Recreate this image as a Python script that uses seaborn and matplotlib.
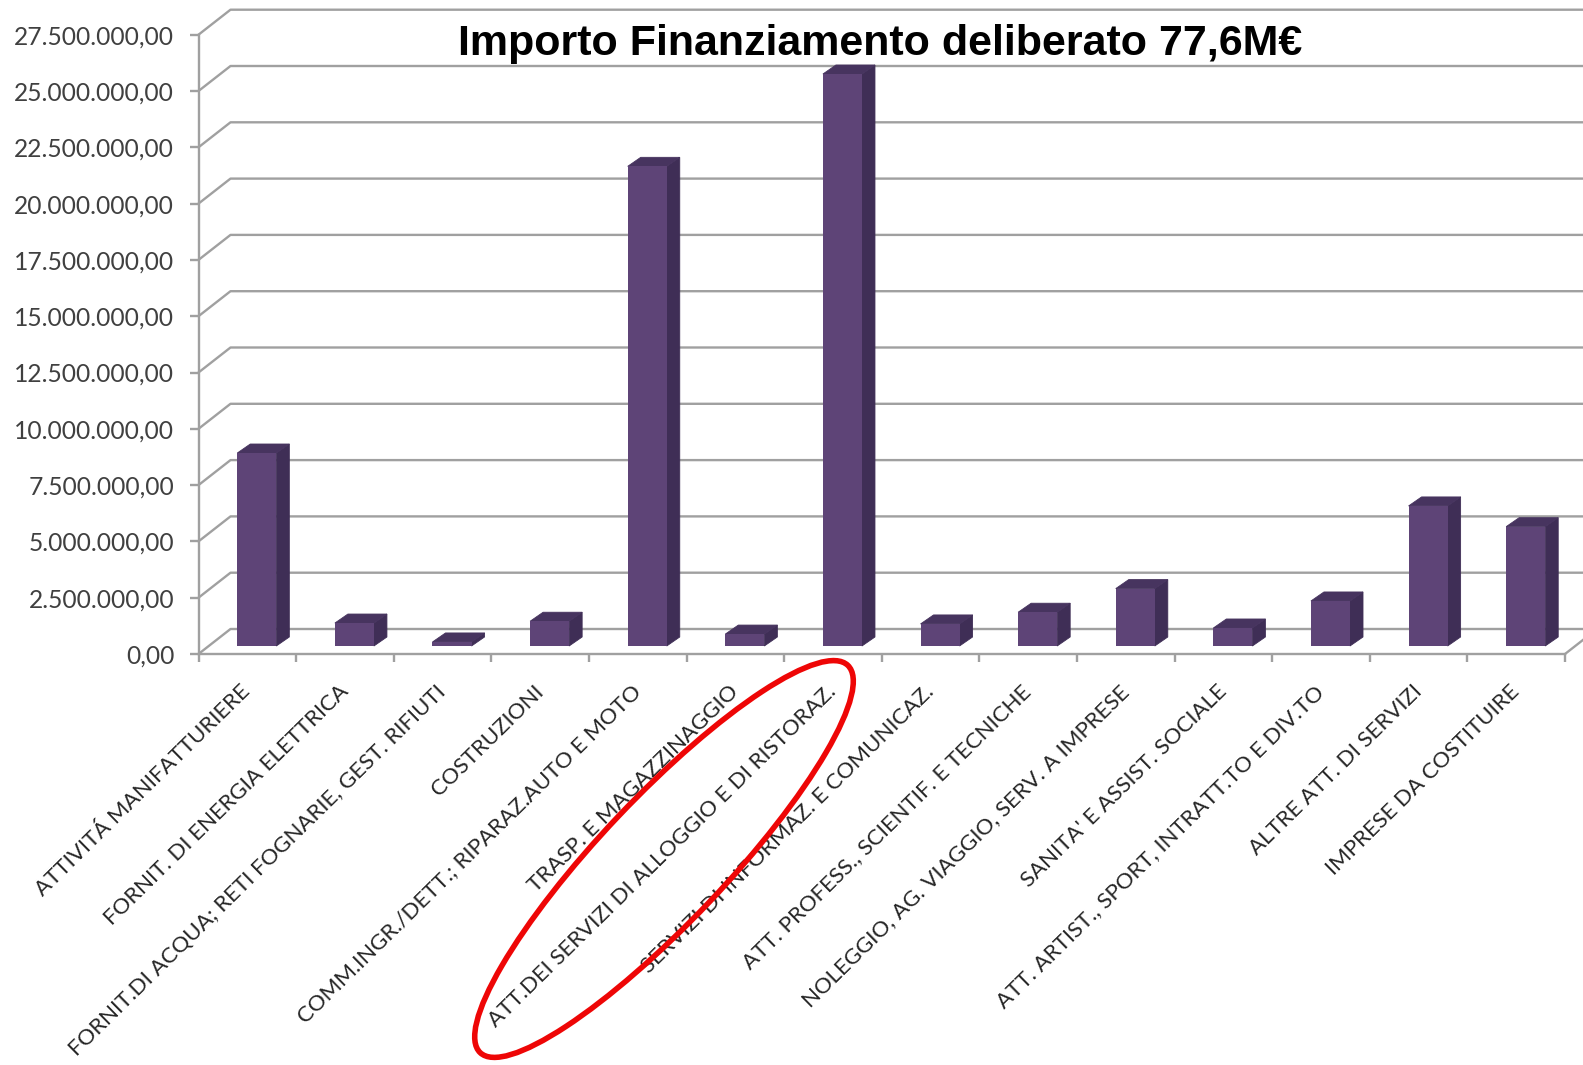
#!/usr/bin/env python3.12

import matplotlib
matplotlib.use("Agg")
import matplotlib.pyplot as plt
import matplotlib.transforms as mtrans
from matplotlib.patches import Ellipse, Polygon
import seaborn as sns

sns.set_theme(style="white")
plt.rcParams["font.family"] = ["Lato", "DejaVu Sans"]

categories = [
    "ATTIVITÁ MANIFATTURIERE",
    "FORNIT. DI ENERGIA ELETTRICA",
    "FORNIT.DI ACQUA; RETI FOGNARIE, GEST. RIFIUTI",
    "COSTRUZIONI",
    "COMM.INGR./DETT.; RIPARAZ.AUTO E MOTO",
    "TRASP. E MAGAZZINAGGIO",
    "ATT.DEI SERVIZI DI ALLOGGIO E DI RISTORAZ.",
    "SERVIZI DI INFORMAZ. E COMUNICAZ.",
    "ATT. PROFESS., SCIENTIF. E TECNICHE",
    "NOLEGGIO, AG. VIAGGIO, SERV. A IMPRESE",
    "SANITA' E ASSIST. SOCIALE",
    "ATT. ARTIST., SPORT, INTRATT.TO E DIV.TO",
    "ALTRE ATT. DI SERVIZI",
    "IMPRESE DA COSTITUIRE",
]
values = [
    8570000, 1020000, 180000, 1100000, 21300000, 530000, 25400000,
    980000, 1500000, 2550000, 800000, 2000000, 6220000, 5300000,
]
y_ticks = [
    0, 2500000, 5000000, 7500000, 10000000, 12500000, 15000000,
    17500000, 20000000, 22500000, 25000000, 27500000,
]
y_labels = [
    "0,00", "2.500.000,00", "5.000.000,00", "7.500.000,00", "10.000.000,00",
    "12.500.000,00", "15.000.000,00", "17.500.000,00", "20.000.000,00",
    "22.500.000,00", "25.000.000,00", "27.500.000,00",
]

W, H = 1583, 1065
GREY = "#a0a0a0"
FRONT = "#5e4477"
SIDE = "#3f2e56"
TOP = "#47345f"

fig = plt.figure(figsize=(W / 100, H / 100), dpi=100)
# front plane of the fake 3d box, in pixels of the reference
ax = fig.add_axes([198.5 / W, (H - 654) / H, 1366.5 / W, 619.3 / H])

sns.barplot(x=categories, y=values, color=FRONT, saturation=1, width=0.4, linewidth=0, ax=ax, zorder=4)
ax.set_xlim(-0.5, 13.5)
ax.set_ylim(0, 27500000)

px_x = 14 / 1366.5
px_y = 27500000 / 619.3

# back wall lines
wall_dx, wall_dy = 32 * px_x, 25 * px_y
for v in y_ticks:
    ax.plot([-0.5, -0.5 + wall_dx, 14.5], [v, v + wall_dy, v + wall_dy],
            color=GREY, lw=1.7, clip_on=False, zorder=1)
ax.plot([13.5, 13.5 + wall_dx], [0, wall_dy], color=GREY, lw=1.7, clip_on=False, zorder=1)

# bars sit part of the way into the box, then get a side and a top face
shift = mtrans.offset_copy(ax.transData, fig=fig, x=9.5, y=8, units="dots")
bar_dx, bar_dy = 13 * px_x, 9 * px_y
for bar in ax.patches:
    x0, x1, v = bar.get_x(), bar.get_x() + bar.get_width(), bar.get_height()
    bar.set_transform(shift)
    bar.set_clip_on(False)
    ax.add_patch(Polygon([(x1, 0), (x1 + bar_dx, bar_dy), (x1 + bar_dx, v + bar_dy), (x1, v)],
                         closed=True, fc=SIDE, ec=SIDE, lw=0.6, transform=shift, clip_on=False, zorder=3))
    ax.add_patch(Polygon([(x0, v), (x1, v), (x1 + bar_dx, v + bar_dy), (x0 + bar_dx, v + bar_dy)],
                         closed=True, fc=TOP, ec=TOP, lw=0.6, transform=shift, clip_on=False, zorder=3))

for s in ["top", "right"]:
    ax.spines[s].set_visible(False)
for s in ["left", "bottom"]:
    ax.spines[s].set_color(GREY)
    ax.spines[s].set_linewidth(1.7)
    ax.spines[s].set_zorder(2)

ax.set_yticks(y_ticks, y_labels)
ax.tick_params(axis="y", length=6.5, width=1.7, color=GREY, pad=11, labelsize=17.7, labelcolor="#404040", left=True)

# boundary ticks on the axis, labels under the category centres
ax.set_xticks([i - 0.5 for i in range(15)], [""] * 15)
ax.tick_params(axis="x", which="major", length=6, width=1.7, color=GREY, bottom=True)
ax.set_xticks(list(range(len(categories))), categories, minor=True)
ax.tick_params(axis="x", which="minor", length=0, pad=25, labelsize=16.05, labelcolor="#262626", bottom=False)
for lab in ax.get_xticklabels(minor=True):
    lab.set_rotation(44.5)
    lab.set_ha("right")
    lab.set_va("center")
    lab.set_rotation_mode("anchor")

fig.text(880 / W, 1 - 44 / H, "Importo Finanziamento deliberato 77,6M€", ha="center", va="center",
         fontsize=31, fontweight="bold", color="black", family=["Liberation Sans", "DejaVu Sans"])

fig.add_artist(Ellipse((664, H - 859), 534, 125, angle=46.5, fill=False, ec="#ee0606", lw=4,
                       transform=mtrans.IdentityTransform()))

fig.savefig("out.png", dpi=100)
